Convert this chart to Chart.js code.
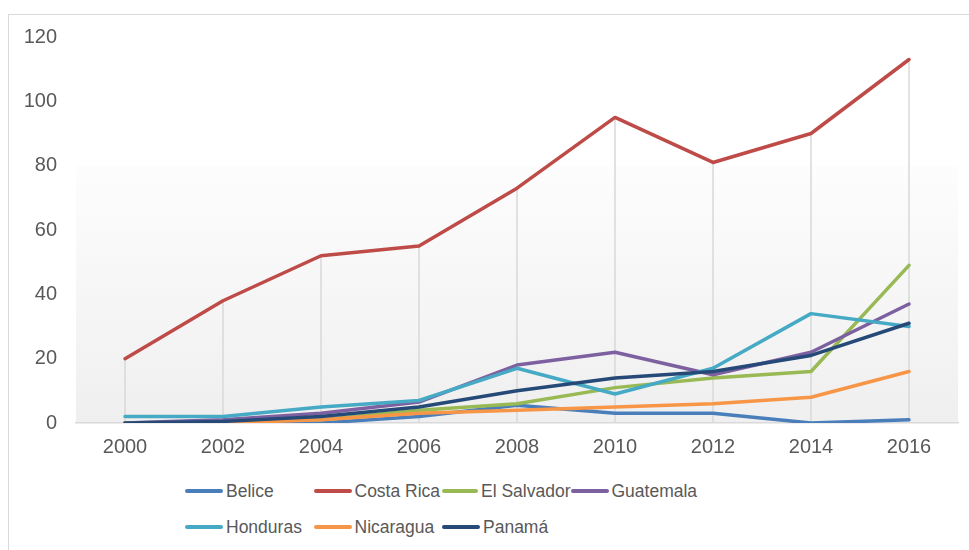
<!DOCTYPE html>
<html lang="es">
<head>
    <meta charset="UTF-8">
    <title>Centroamérica 2000-2016</title>
    <script src="https://cdn.jsdelivr.net/npm/chart.js"></script>
    <style>
        body {
            margin: 0;
            background: #ffffff;
            font-family: "Liberation Sans", Arial, sans-serif;
        }
        .frame {
            position: absolute;
            left: 8px;
            top: 14px;
            width: 961px;
            height: 536px;
            border-left: 1px solid #d9d9d9;
            border-top: 1px solid #d9d9d9;
        }
        #chart {
            position: absolute;
            left: 0;
            top: 0;
        }
        /* leyenda en columnas, como en Excel */
        .legend {
            position: absolute;
            left: 176px;
            top: 458px;
            display: grid;
            grid-template-columns: repeat(4, 128.5px);
            grid-auto-rows: 36px;
            color: #595959;
            font-size: 17.5px;
        }
        .legend .item {
            display: flex;
            align-items: center;
            white-space: nowrap;
        }
        .legend .swatch {
            width: 38px;
            height: 3.5px;
            border-radius: 2px;
            margin-right: 3px;
        }
    </style>
</head>
<body>

<div class="frame">
    <canvas id="chart" width="960" height="450"></canvas>
    <div class="legend" id="legend"></div>
</div>

<script>
    // --- Datos ---
    const years = ['2000', '2002', '2004', '2006', '2008', '2010', '2012', '2014', '2016'];
    const countries = ['Belice', 'Costa Rica', 'El Salvador', 'Guatemala', 'Honduras', 'Nicaragua', 'Panamá'];
    const belice     = [0, 0, 0, 2, 5.5, 3, 3, 0, 1];
    const costaRica  = [20, 38, 52, 55, 73, 95, 81, 90, 113];
    const elSalvador = [0, 0.5, 1, 4, 6, 11, 14, 16, 49];
    const guatemala  = [0, 1, 3, 6.5, 18, 22, 15, 22, 37];
    const honduras   = [2, 2, 5, 7, 17, 9, 17, 34, 30];
    const nicaragua  = [0, 0, 1, 3, 4, 5, 6, 8, 16];
    const panama     = [0, 0.5, 2, 5, 10, 14, 16, 21, 31];
    const yTicks = [0, 20, 40, 60, 80, 100, 120];

    const seriesValues = [belice, costaRica, elSalvador, guatemala, honduras, nicaragua, panama];
    const colors = ['#4a7ebb', '#be4b48', '#98b954', '#7d60a0', '#46aac5', '#f79646', '#264a78'];

    const textColor = '#595959';
    const fontFamily = '"Liberation Sans", Arial, sans-serif';

    // Fondo degradado del área de trazado
    const plotBackground = {
        id: 'plotBackground',
        beforeDraw(chart) {
            const { ctx, chartArea, scales } = chart;
            const yStart = scales.y.getPixelForValue(80);
            const grad = ctx.createLinearGradient(0, yStart, 0, chartArea.bottom);
            grad.addColorStop(0, '#fdfdfd');
            grad.addColorStop(1, '#efefef');
            ctx.save();
            ctx.fillStyle = grad;
            ctx.fillRect(chartArea.left, yStart, chartArea.right - chartArea.left, chartArea.bottom - yStart);
            ctx.restore();
        }
    };

    // Líneas de proyección desde el valor máximo hasta el eje
    const dropLines = {
        id: 'dropLines',
        beforeDatasetsDraw(chart) {
            const { ctx, chartArea, scales } = chart;
            ctx.save();
            ctx.strokeStyle = '#d9d9d9';
            ctx.lineWidth = 1.5;
            years.forEach((_, i) => {
                const top = Math.max(...chart.data.datasets.map(ds => ds.data[i]));
                const x = scales.x.getPixelForValue(i);
                ctx.beginPath();
                ctx.moveTo(x, scales.y.getPixelForValue(top));
                ctx.lineTo(x, chartArea.bottom);
                ctx.stroke();
            });
            ctx.restore();
        }
    };

    const chart = new Chart(document.getElementById('chart'), {
        type: 'line',
        data: {
            labels: years,
            datasets: countries.map((name, i) => ({
                label: name,
                data: seriesValues[i],
                borderColor: colors[i],
                backgroundColor: colors[i],
                borderWidth: 3.5,
                borderCapStyle: 'round',
                borderJoinStyle: 'round',
                pointRadius: 0,
                tension: 0,
                order: countries.length - i // Panamá queda encima
            }))
        },
        options: {
            responsive: false,
            animation: false,
            layout: { padding: { top: 22, right: 11, bottom: 0, left: 0 } },
            scales: {
                x: {
                    offset: true,
                    grid: { display: false, drawTicks: false },
                    border: { display: true, color: '#d9d9d9', width: 1.5 },
                    ticks: {
                        color: textColor,
                        font: { family: fontFamily, size: 20 },
                        padding: 12,
                        maxRotation: 0
                    },
                    afterFit(scale) { scale.height = 42; }
                },
                y: {
                    min: 0,
                    max: 120,
                    afterBuildTicks(scale) {
                        scale.ticks = yTicks.map(v => ({ value: v }));
                    },
                    grid: { display: false, drawTicks: false },
                    border: { display: false },
                    ticks: {
                        color: textColor,
                        font: { family: fontFamily, size: 20 },
                        padding: 19
                    },
                    afterFit(scale) {
                        scale.width = 67;
                        scale.paddingTop = 10;
                        scale.paddingBottom = 10;
                    }
                }
            },
            plugins: {
                legend: { display: false },
                tooltip: { enabled: false }
            }
        },
        plugins: [plotBackground, dropLines]
    });

    // Leyenda HTML construida a partir de los datasets
    const legendEl = document.getElementById('legend');
    chart.data.datasets.forEach(ds => {
        const item = document.createElement('div');
        item.className = 'item';
        const sw = document.createElement('span');
        sw.className = 'swatch';
        sw.style.background = ds.borderColor;
        const label = document.createElement('span');
        label.textContent = ds.label;
        item.appendChild(sw);
        item.appendChild(label);
        legendEl.appendChild(item);
    });
</script>

</body>
</html>
